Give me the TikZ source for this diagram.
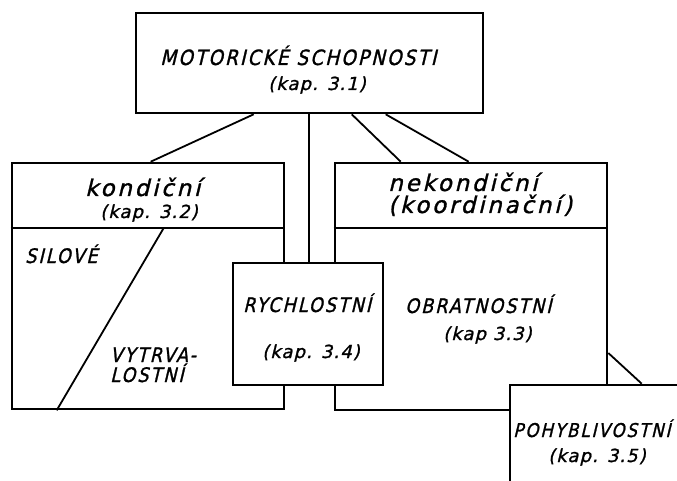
\documentclass[tikz,border=0pt]{standalone}
\usepackage{fontspec}
\setmainfont{DejaVu Sans}
\newfontfamily\capsfont[FakeSlant=0.24,FakeStretch=0.88,FakeBold=1.2,
  LetterSpace=10]{DejaVu Sans}
\newfontfamily\handfont[FakeSlant=0.24,FakeBold=1.2,LetterSpace=12]{DejaVu Sans}
\newfontfamily\kapfont[FakeSlant=0.24,FakeBold=1.2,LetterSpace=6]{DejaVu Sans}

\begin{document}
\begin{tikzpicture}[x=1pt,y=-1pt,
  box/.style 2 args={draw,line width=2.6pt,fill=white,inner sep=0pt,
    minimum width=#1pt,minimum height=#2pt},
  link/.style={line width=1.8pt},
  caps/.style={anchor=base west,inner sep=0pt,
    font=\capsfont\fontsize{20}{22}\selectfont},
  hand/.style={anchor=base west,inner sep=0pt,
    font=\handfont\fontsize{23}{25}\selectfont},
  kap/.style={anchor=base west,inner sep=0pt,
    font=\kapfont\fontsize{18}{20}\selectfont}]

\clip (0,0) rectangle (677,481);

% top box
\node[box={347}{100}] (motor) at (309.5,63) {};

% the two big groups
\node[box={272}{246}] (kond) at (148,286) {};
\node[box={272}{247}] (nekond) at (471,286.5) {};

% header dividers
\coordinate (kdl) at ([yshift=58pt]kond.west);
\coordinate (kdr) at ([yshift=58pt]kond.east);
\coordinate (ndl) at ([yshift=58.5pt]nekond.west);
\coordinate (ndr) at ([yshift=58.5pt]nekond.east);
\draw[line width=2.2pt] (kdl) -- (kdr);
\draw[line width=2.2pt] (ndl) -- (ndr);

% split of the left group
\draw[link] ([xshift=153pt]kdl) -- ([xshift=46pt]kond.south west);

% boxes laid over the groups
\node[box={150}{122}] (rychl) at (308,324) {};
\node[box={190}{115}] (pohyb) at (605,442.5) {};

% links from the top box
\coordinate (m1) at ([xshift=119pt]motor.south west);
\coordinate (m2) at ([xshift=174pt]motor.south west);
\coordinate (m3) at ([xshift=217pt]motor.south west);
\coordinate (m4) at ([xshift=251pt]motor.south west);
\draw[link] (m1) -- ([xshift=140pt]kond.north west);
\draw[link] (m2) -- (m2 |- rychl.north);
\draw[link] (m3) -- ([xshift=67pt]nekond.north west);
\draw[link] (m4) -- ([xshift=135pt]nekond.north west);
\draw[link] ([yshift=-66.5pt]nekond.east) -- ([xshift=133pt]pohyb.north west);

% texts
\node[caps,font=\capsfont\fontsize{21}{22}\selectfont] (t0a) at (160,65)
  {MOTORICKÉ SCHOPNOSTI};
\node[kap] (t0b) at (268,90) {(kap. 3.1)};
\node[hand] (t1a) at (85,196) {kondiční};
\node[kap] (t1b) at (100,218) {(kap. 3.2)};
\node[caps] (t1c) at (25,263) {SILOVÉ};
\node[caps] (t1d) at (110,362) {VYTRVA-};
\node[caps] (t1e) at (110,382) {LOSTNÍ};
\node[hand] (t2a) at (388,191) {nekondiční};
\node[hand] (t2b) at (388,213) {(koordinační)};
\node[caps] (t2c) at (405,313) {OBRATNOSTNÍ};
\node[kap] (t2d) at (443,340) {(kap 3.3)};
\node[caps] (t3a) at (243,312) {RYCHLOSTNÍ};
\node[kap] (t3b) at (262,358) {(kap. 3.4)};
\node[caps,font=\capsfont\fontsize{19}{20}\selectfont] (t4a) at (513,437)
  {POHYBLIVOSTNÍ};
\node[kap] (t4b) at (548,462) {(kap. 3.5)};

\end{tikzpicture}
\end{document}
